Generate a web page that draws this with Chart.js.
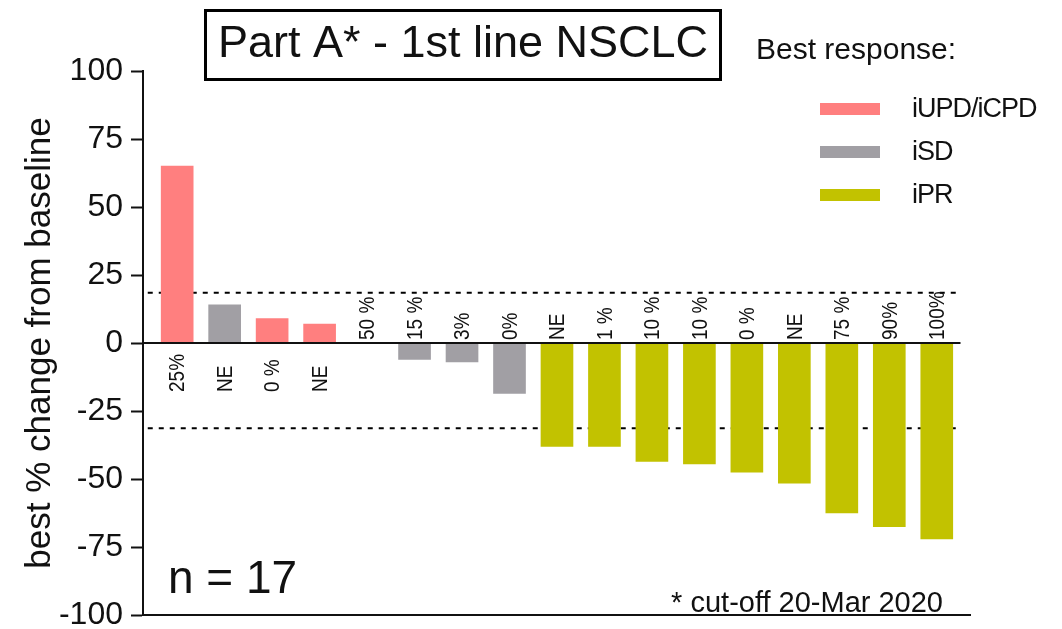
<!DOCTYPE html>
<html>
<head>
<meta charset="utf-8">
<script src="https://cdn.jsdelivr.net/npm/chart.js@4/dist/chart.umd.min.js"></script>
<style>
  html, body { margin: 0; padding: 0; background: #fff; }
  #wrap { width: 1062px; height: 629px; }
</style>
</head>
<body>
<div id="wrap"><canvas id="myChart" width="1062" height="629"></canvas></div>
<script>
// --- data ---
const patientLabels = ['25%', 'NE', '0 %', 'NE', '50 %', '15 %', '3%', '0%', 'NE', '1 %', '10 %', '10 %', '0 %', 'NE', '75 %', '90%', '100%'];
const bestChange = [65, 14, 9, 7, 0, -6, -7, -18.5, -38, -38, -43.5, -44.5, -47.5, -51.5, -62.5, -67.5, -72];
const bestResponse = ['iUPD/iCPD', 'iSD', 'iUPD/iCPD', 'iUPD/iCPD', 'iSD', 'iSD', 'iSD', 'iSD', 'iPR', 'iPR', 'iPR', 'iPR', 'iPR', 'iPR', 'iPR', 'iPR', 'iPR'];
const responseNames = ['iUPD/iCPD', 'iSD', 'iPR'];
const responseColors = ['#ff7f7f', '#a19fa4', '#c2c200'];
const cutoffUpper = 18.5;
const cutoffLower = -31.3;
const yTicks = [100, 75, 50, 25, 0, -25, -50, -75, -100];

const FONT = "'Liberation Sans', Arial, Helvetica, sans-serif";

function colorFor(resp) {
    return responseColors[responseNames.indexOf(resp)];
}

// Etichette ruotate sopra/sotto lo zero + legenda + titolo
const annotations = {
    id: 'annotations',
    afterDatasetsDraw(chart) {
        const ctx = chart.ctx;
        const xs = chart.scales.x;
        const ys = chart.scales.y;
        const y0 = ys.getPixelForValue(0);

        ctx.save();
        ctx.fillStyle = '#111';
        ctx.font = '19px ' + FONT;
        ctx.textAlign = 'left';
        ctx.textBaseline = 'middle';
        for (let i = 0; i < patientLabels.length; i++) {
            const x = xs.getPixelForValue(i);
            const start = bestChange[i] > 0 ? y0 + 49 : y0 - 3;
            ctx.save();
            ctx.translate(x + 1, start);
            ctx.rotate(-Math.PI / 2);
            ctx.scale(1, 1.2);
            ctx.fillText(patientLabels[i], 0, 0);
            ctx.restore();
        }
        ctx.restore();
    },
    afterDraw(chart) {
        const ctx = chart.ctx;
        ctx.save();

        // title box
        ctx.strokeStyle = '#000';
        ctx.lineWidth = 3;
        ctx.strokeRect(205.5, 10.5, 515, 69);
        ctx.fillStyle = '#111';
        ctx.font = '45px ' + FONT;
        ctx.textAlign = 'center';
        ctx.textBaseline = 'middle';
        ctx.fillText('Part A* - 1st line NSCLC', 463, 45);

        // legend
        ctx.font = '30px ' + FONT;
        ctx.textAlign = 'left';
        ctx.textBaseline = 'alphabetic';
        ctx.fillText('Best response:', 756, 59);

        ctx.font = '27px ' + FONT;
        ctx.textBaseline = 'middle';
        ctx.letterSpacing = '-1px';
        for (let i = 0; i < responseNames.length; i++) {
            const cy = 109 + i * 43;
            ctx.fillStyle = responseColors[i];
            ctx.fillRect(820, cy - 6, 60, 12);
            ctx.fillStyle = '#111';
            ctx.fillText(responseNames[i], 912, cy + 1);
        }
        ctx.letterSpacing = '0px';

        // n and footnote
        ctx.textBaseline = 'alphabetic';
        ctx.font = '46px ' + FONT;
        ctx.fillText('n = 17', 168, 593);
        ctx.font = '29px ' + FONT;
        ctx.textAlign = 'right';
        ctx.fillText('* cut-off 20-Mar 2020', 943, 612);

        ctx.restore();
    }
};

function hLine(y, x1, x2) {
    return [{ x: x1, y: y }, { x: x2, y: y }];
}

function drawChart() {
    const ctx = document.getElementById('myChart');

    new Chart(ctx, {
        data: {
            datasets: [
                {
                    type: 'bar',
                    data: bestChange.map((v, i) => ({ x: i, y: v })),
                    backgroundColor: bestResponse.map(colorFor),
                    borderWidth: 0,
                    barThickness: 32,
                    order: 1
                },
                {
                    type: 'line',
                    data: hLine(cutoffUpper, -0.62, 16.5),
                    borderColor: '#000',
                    borderWidth: 2,
                    borderDash: [5, 6],
                    pointRadius: 0,
                    order: 2
                },
                {
                    type: 'line',
                    data: hLine(cutoffLower, -0.62, 16.5),
                    borderColor: '#000',
                    borderWidth: 2,
                    borderDash: [5, 6],
                    pointRadius: 0,
                    order: 2
                },
                {
                    type: 'line',
                    data: hLine(0, -0.72, 16.5),
                    borderColor: '#111',
                    borderWidth: 2,
                    pointRadius: 0,
                    order: 0
                }
            ]
        },
        options: {
            responsive: false,
            animation: false,
            events: [],
            layout: {
                padding: { top: 71, right: 92, bottom: 14, left: 0 }
            },
            plugins: {
                legend: { display: false },
                tooltip: { enabled: false }
            },
            scales: {
                x: {
                    type: 'linear',
                    offset: false,
                    min: -0.72,
                    max: 16.7,
                    ticks: { display: false },
                    grid: { display: false, offset: false },
                    border: { display: true, color: '#111', width: 2 },
                    afterFit(scale) {
                        scale.height = 0;
                        scale.paddingLeft = 0;
                        scale.paddingRight = 0;
                    }
                },
                y: {
                    min: -100,
                    max: 100,
                    afterBuildTicks(scale) {
                        scale.ticks = yTicks.map(v => ({ value: v }));
                    },
                    ticks: {
                        color: '#111',
                        padding: 8,
                        font: { family: FONT, size: 32, lineHeight: 0.8 }
                    },
                    grid: {
                        drawOnChartArea: false,
                        drawTicks: true,
                        tickLength: 12,
                        tickWidth: 2,
                        tickColor: '#111'
                    },
                    border: { display: true, color: '#111', width: 2 },
                    title: {
                        display: true,
                        text: 'best % change from baseline',
                        color: '#111',
                        font: { family: FONT, size: 35 },
                        padding: { top: 19, bottom: 0 }
                    },
                    afterFit(scale) {
                        scale.width = 143;
                        scale.paddingTop = 0;
                        scale.paddingBottom = 0;
                    }
                }
            }
        },
        plugins: [annotations]
    });
}

document.addEventListener('DOMContentLoaded', drawChart);
</script>
</body>
</html>
